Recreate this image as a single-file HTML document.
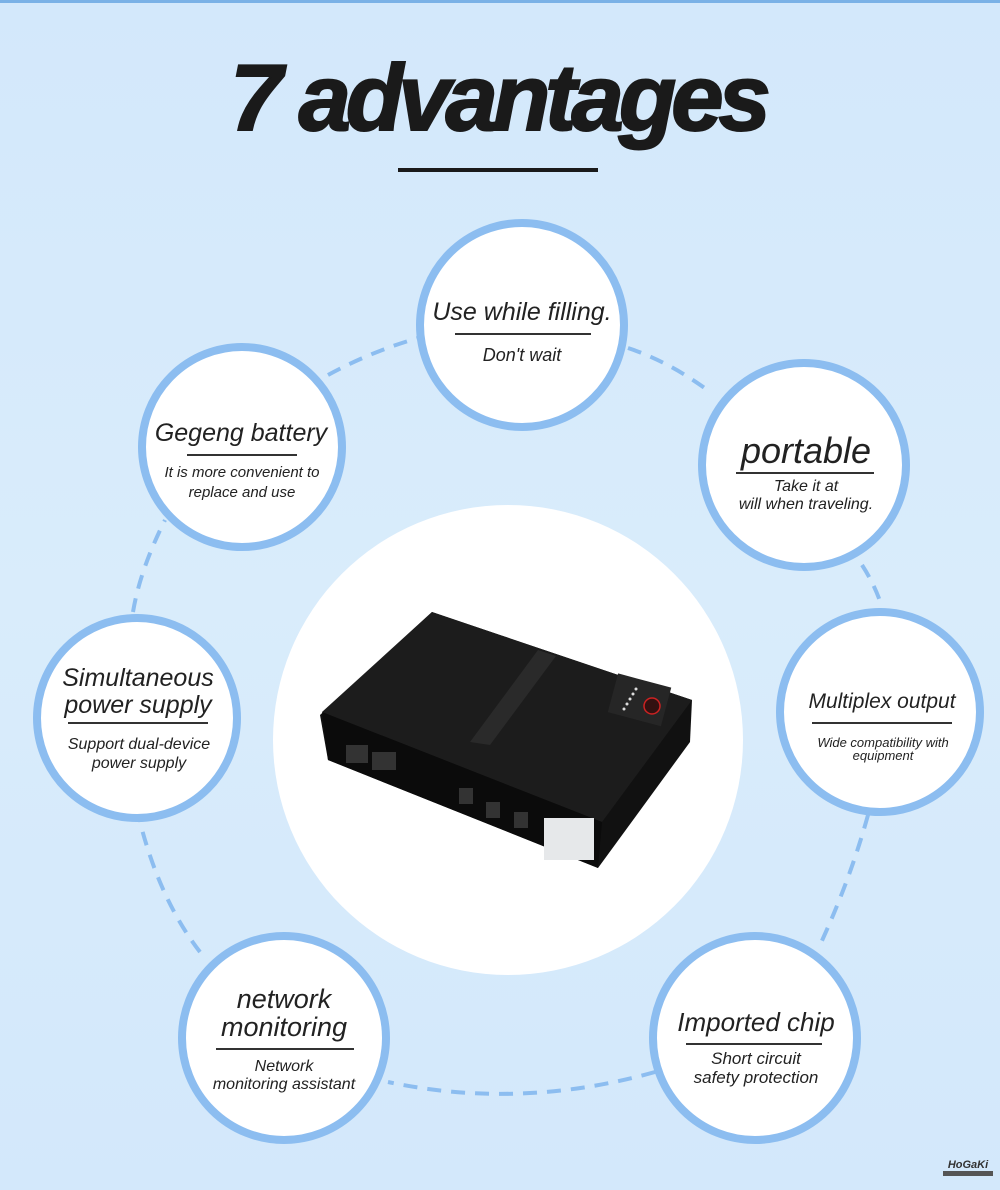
<!DOCTYPE html>
<html><head><meta charset="utf-8"><style>
body{margin:0;width:1000px;height:1190px;overflow:hidden;background:linear-gradient(#d3e8fb,#d9ecfb 50%,#d3e8fb);font-family:"Liberation Sans",sans-serif}
svg{position:absolute;left:0;top:0}
</style></head><body>
<svg width="1000" height="1190" viewBox="0 0 1000 1190">
<rect x="0" y="0" width="1000" height="3" fill="#7ab1e6"/>
<text x="498" y="130" text-anchor="middle" font-size="94" font-weight="bold" font-style="italic" fill="#1a1a1a" letter-spacing="-5" font-family="Liberation Sans" stroke="#1a1a1a" stroke-width="2">7 advantages</text>
<rect x="398" y="168" width="200" height="4" fill="#1a1a1a"/>
<g stroke="#8cbdf0" stroke-width="4" stroke-dasharray="14 10" fill="none">
<path d="M328 375 Q370 352 418 338"/>
<path d="M628 348 Q670 362 710 392"/>
<path d="M862 565 Q875 585 882 607"/>
<path d="M868 815 Q850 880 820 945"/>
<path d="M655 1072 Q520 1110 388 1082"/>
<path d="M200 952 Q160 900 140 822"/>
<path d="M133 612 Q140 570 165 520"/>
</g>
<circle cx="508" cy="740" r="235" fill="#fff"/>
<g fill="#fff" stroke="#8cbdf0" stroke-width="8">
<circle cx="522" cy="325" r="102"/>
<circle cx="242" cy="447" r="100"/>
<circle cx="804" cy="465" r="102"/>
<circle cx="137" cy="718" r="100"/>
<circle cx="880" cy="712" r="100"/>
<circle cx="284" cy="1038" r="102"/>
<circle cx="755" cy="1038" r="102"/>
</g>
<polygon points="432,612 692,700 690,742 598,868 328,760 320,715" fill="#111"/>
<polygon points="432,612 692,700 602,822 322,712" fill="#1c1c1c"/>
<polygon points="322,712 602,822 598,868 328,760" fill="#0b0b0b"/>
<polygon points="538,650 556,656 490,745 470,742" fill="#2a2a2a"/>
<rect x="612" y="680" width="55" height="40" fill="#262626" transform="rotate(15 640 700)"/>
<circle cx="652" cy="706" r="8" fill="#311" stroke="#c22" stroke-width="1.5"/>
<g fill="#ddd"><circle cx="636" cy="689" r="1.5"/><circle cx="633" cy="694" r="1.5"/><circle cx="630" cy="699" r="1.5"/><circle cx="627" cy="704" r="1.5"/><circle cx="624" cy="709" r="1.5"/></g>
<rect x="544" y="818" width="50" height="42" fill="#e6e8ea"/>
<rect x="346" y="745" width="22" height="18" fill="#333"/><rect x="372" y="752" width="24" height="18" fill="#333"/>
<rect x="459" y="788" width="14" height="16" fill="#333"/><rect x="486" y="802" width="14" height="16" fill="#333"/><rect x="514" y="812" width="14" height="16" fill="#333"/>
<g font-style="italic" text-anchor="middle" fill="#222" font-family="Liberation Sans">
<text x="522" y="320" font-size="25">Use while filling.</text>
<rect x="455" y="333" width="136" height="2" fill="#333"/>
<text x="522" y="361" font-size="18">Don't wait</text>
<text x="241" y="441" font-size="25">Gegeng battery</text>
<rect x="187" y="454" width="110" height="2" fill="#333"/>
<text x="242" y="477" font-size="15">It is more convenient to</text>
<text x="242" y="497" font-size="15">replace and use</text>
<text x="806" y="463" font-size="36">portable</text>
<rect x="736" y="472" width="138" height="2" fill="#333"/>
<text x="806" y="491" font-size="16">Take it at</text>
<text x="806" y="509" font-size="16">will when traveling.</text>
<text x="138" y="686" font-size="25">Simultaneous</text>
<text x="138" y="713" font-size="25">power supply</text>
<rect x="68" y="722" width="140" height="2" fill="#333"/>
<text x="139" y="749" font-size="16">Support dual-device</text>
<text x="139" y="768" font-size="16">power supply</text>
<text x="882" y="708" font-size="21">Multiplex output</text>
<rect x="812" y="722" width="140" height="2" fill="#333"/>
<text x="883" y="747" font-size="13">Wide compatibility with</text>
<text x="883" y="760" font-size="13">equipment</text>
<text x="284" y="1008" font-size="27">network</text>
<text x="284" y="1036" font-size="27">monitoring</text>
<rect x="216" y="1048" width="138" height="2" fill="#333"/>
<text x="284" y="1071" font-size="16">Network</text>
<text x="284" y="1089" font-size="16">monitoring assistant</text>
<text x="756" y="1031" font-size="26">Imported chip</text>
<rect x="686" y="1043" width="136" height="2" fill="#333"/>
<text x="756" y="1064" font-size="17">Short circuit</text>
<text x="756" y="1083" font-size="17">safety protection</text>
</g>
<text x="968" y="1168" text-anchor="middle" font-size="11" font-weight="bold" font-style="italic" fill="#333">HoGaKi</text>
<rect x="943" y="1171" width="50" height="5" fill="#555"/>
</svg>
</body></html>
